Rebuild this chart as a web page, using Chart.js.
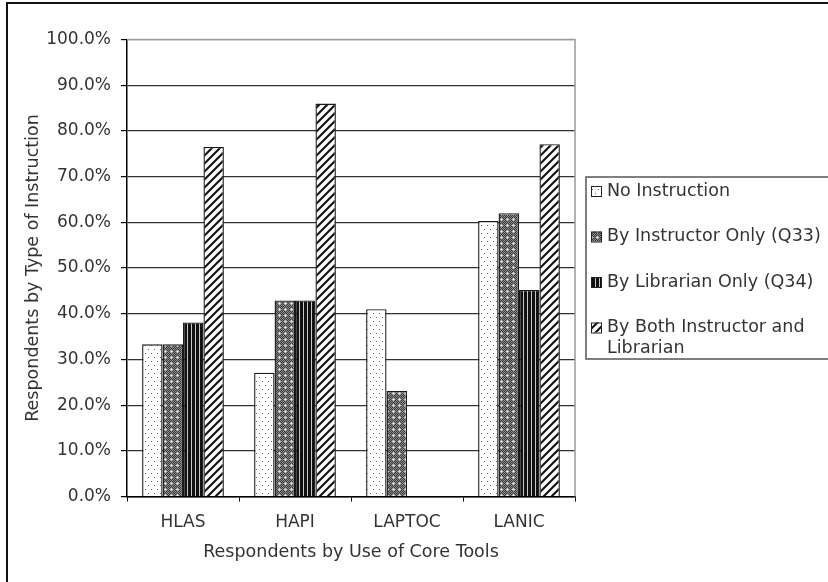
<!DOCTYPE html>
<html>
<head>
<meta charset="utf-8">
<script src="https://cdn.jsdelivr.net/npm/chart.js@4"></script>
<style>
  html, body { margin: 0; padding: 0; background: #fff; overflow: hidden; }
</style>
</head>
<body>
<canvas id="chart" width="828" height="582"></canvas>
<script>
const categories = ["HLAS", "HAPI", "LAPTOC", "LANIC"];
const noInstruction = [33.3, 27.1, 41.0, 60.3];
const byInstructor = [33.3, 42.9, 23.1, 62.0];
const byLibrarian = [38.1, 42.9, 0, 45.2];
const byBoth = [76.5, 86.0, 0, 77.1];
const seriesLabels = [
  "No Instruction",
  "By Instructor Only (Q33)",
  "By Librarian Only (Q34)",
  "By Both Instructor and Librarian",
];
const yMin = 0, yMax = 100, yStep = 10;

const FONT = "'DejaVu Sans', Verdana, sans-serif";
const TEXT = "#333";

// pattern fills
const makePattern = (w, h, draw) => {
  const c = document.createElement("canvas");
  c.width = w;
  c.height = h;
  const g = c.getContext("2d");
  draw(g, w, h);
  return c.getContext("2d").createPattern(c, "repeat");
};

const dots = makePattern(6, 8, (g, w, h) => {
  g.fillStyle = "#fff";
  g.fillRect(0, 0, w, h);
  g.fillStyle = "#666";
  g.fillRect(1, 1, 1, 1);
  g.fillRect(4, 5, 1, 1);
});

const crosshatch = makePattern(6, 6, (g, w, h) => {
  for (let y = 0; y < h; y++) {
    for (let x = 0; x < w; x++) {
      g.fillStyle = (x + y) % 2 ? "#3a3a3a" : "#8c8c8c";
      g.fillRect(x, y, 1, 1);
    }
  }
  g.fillStyle = "#f0f0f0";
  g.fillRect(3, 3, 1, 1);
  g.fillStyle = "#c4c4c4";
  g.fillRect(3, 2, 1, 1);
  g.fillRect(2, 3, 1, 1);
  g.fillRect(4, 3, 1, 1);
  g.fillRect(3, 4, 1, 1);
});

const vstripes = makePattern(4, 4, (g, w, h) => {
  g.fillStyle = "#111";
  g.fillRect(0, 0, w, h);
  g.fillStyle = "#c8c8c8";
  g.fillRect(3, 0, 1, h);
});

const diag = makePattern(8, 8, (g, w, h) => {
  g.fillStyle = "#fff";
  g.fillRect(0, 0, w, h);
  g.strokeStyle = "#111";
  g.lineWidth = 2.1;
  g.beginPath();
  for (const k of [-1, 0, 1]) {
    g.moveTo(k * w - 1, h + 1);
    g.lineTo(k * w + w + 1, -1);
  }
  g.stroke();
});

const fills = [dots, crosshatch, vstripes, diag];
const seriesData = [noInstruction, byInstructor, byLibrarian, byBoth];

const frame = {
  id: "frame",
  afterDraw(chart) {
    const ctx = chart.ctx;
    const a = chart.chartArea;
    ctx.save();
    // plot area top/right border
    ctx.strokeStyle = "#9a9a9a";
    ctx.lineWidth = 1.5;
    ctx.beginPath();
    ctx.moveTo(a.left, a.top);
    ctx.lineTo(a.right, a.top);
    ctx.lineTo(a.right, a.bottom);
    ctx.stroke();
    // outer frame
    ctx.strokeStyle = "#111";
    ctx.lineWidth = 2;
    ctx.strokeRect(7, 3, 900, 700);

    // legend box
    const lx = 586, ly = 177;
    ctx.fillStyle = "#fff";
    ctx.fillRect(lx, ly, 260, 182);
    ctx.strokeStyle = "#555";
    ctx.lineWidth = 1.5;
    ctx.strokeRect(lx, ly, 260, 182);

    ctx.font = "17.5px " + FONT;
    ctx.textBaseline = "middle";
    ctx.textAlign = "left";
    let y = 191;
    chart.data.datasets.forEach((ds) => {
      ctx.fillStyle = ds.backgroundColor;
      ctx.fillRect(591, y - 5, 10, 10);
      ctx.strokeStyle = "#222";
      ctx.lineWidth = 1;
      ctx.strokeRect(591.5, y - 4.5, 10, 10);

      // simple word wrap
      const words = ds.label.split(" ");
      const lines = [];
      let cur = "";
      words.forEach((w) => {
        const test = cur ? cur + " " + w : w;
        if (ctx.measureText(test).width > 226 && cur) {
          lines.push(cur);
          cur = w;
        } else {
          cur = test;
        }
      });
      lines.push(cur);
      ctx.fillStyle = TEXT;
      lines.forEach((t, j) => ctx.fillText(t, 607, y + j * 21));
      y += 45.5;
    });
    ctx.restore();
  },
};

new Chart(document.getElementById("chart"), {
  type: "bar",
  data: {
    labels: categories,
    datasets: seriesData.map((d, i) => ({
      label: seriesLabels[i],
      data: d,
      backgroundColor: fills[i],
      borderColor: "#1a1a1a",
      borderWidth: 1.4,
      categoryPercentage: 0.73,
      barPercentage: 1.0,
    })),
  },
  options: {
    responsive: false,
    animation: false,
    layout: { padding: { top: 39.5, right: 253, left: 0, bottom: 0 } },
    plugins: {
      legend: { display: false },
      tooltip: { enabled: false },
    },
    scales: {
      x: {
        afterFit: (s) => { s.height = 85.5; },
        grid: {
          drawOnChartArea: false,
          drawTicks: true,
          tickLength: 5,
          tickColor: "#000",
        },
        border: { color: "#000", width: 1.5 },
        ticks: { color: TEXT, font: { family: FONT, size: 17 }, padding: 11 },
        title: {
          display: true,
          text: "Respondents by Use of Core Tools",
          color: TEXT,
          font: { family: FONT, size: 17.5 },
          padding: { top: 0, bottom: 19.5 },
        },
      },
      y: {
        min: yMin,
        max: yMax,
        afterFit: (s) => { s.width = 127; },
        ticks: {
          stepSize: yStep,
          color: TEXT,
          font: { family: FONT, size: 17 },
          padding: 10,
          callback: (v) => v.toFixed(1) + "%",
        },
        grid: {
          color: (c) => (c.tick && c.tick.value === yMax ? "#9a9a9a" : "#333"),
          tickColor: "#000",
          tickLength: 6,
          lineWidth: 1.2,
        },
        border: { color: "#000", width: 1.5 },
        title: {
          display: true,
          text: "Respondents by Type of Instruction",
          color: TEXT,
          font: { family: FONT, size: 17.5 },
          padding: { top: 22.5, bottom: 0 },
        },
      },
    },
  },
  plugins: [frame],
});
</script>
</body>
</html>
